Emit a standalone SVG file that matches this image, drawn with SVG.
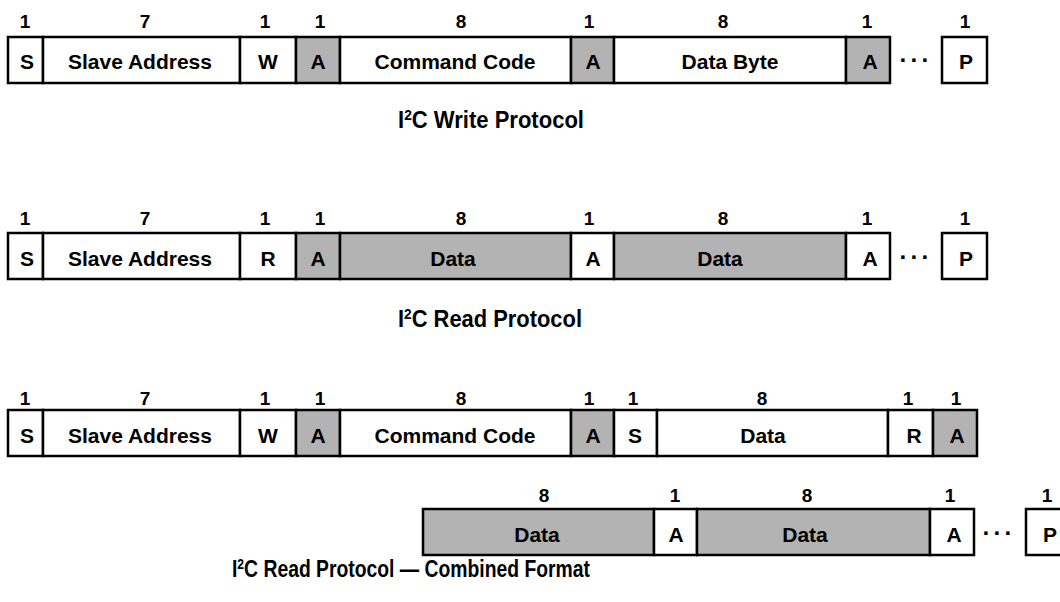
<svg xmlns="http://www.w3.org/2000/svg" width="1060" height="602" viewBox="0 0 1060 602">
  <style>
    .box { stroke: #000; stroke-width: 2.5; }
    .w { fill: #fff; }
    .g { fill: #b3b3b3; }
    text { font-family: "Liberation Sans", Arial, Helvetica, sans-serif; font-weight: bold; fill: #000; text-anchor: middle; }
    .lbl { font-size: 21px; }
    .num { font-size: 19px; }
    .dots { font-size: 24px; letter-spacing: 3px; }
    .ttl { font-size: 24px; text-anchor: start; }
    .sup { font-size: 15px; }
  </style>
  <rect width="1060" height="602" fill="#fff"/>

  <!-- Write protocol frame -->
  <g id="write">
    <g id="w-s"><rect class="box w" x="8" y="37" width="35" height="46"/><text class="num" x="25" y="28">1</text><text class="lbl" x="27" y="69">S</text></g>
    <g id="w-addr"><rect class="box w" x="43" y="37" width="197" height="46"/><text class="num" x="145" y="28">7</text><text class="lbl" x="140" y="69">Slave Address</text></g>
    <g id="w-rw"><rect class="box w" x="240" y="37" width="56" height="46"/><text class="num" x="265" y="28">1</text><text class="lbl" x="268" y="69">W</text></g>
    <g id="w-ack1"><rect class="box g" x="296" y="37" width="44" height="46"/><text class="num" x="320" y="28">1</text><text class="lbl" x="318" y="69">A</text></g>
    <g id="w-cmd"><rect class="box w" x="340" y="37" width="231" height="46"/><text class="num" x="461" y="28">8</text><text class="lbl" x="455" y="69">Command Code</text></g>
    <g id="w-ack2"><rect class="box g" x="571" y="37" width="43" height="46"/><text class="num" x="589" y="28">1</text><text class="lbl" x="593" y="69">A</text></g>
    <g id="w-data"><rect class="box w" x="614" y="37" width="232" height="46"/><text class="num" x="723" y="28">8</text><text class="lbl" x="730" y="69">Data Byte</text></g>
    <g id="w-ack3"><rect class="box g" x="846" y="37" width="44" height="46"/><text class="num" x="867" y="28">1</text><text class="lbl" x="870" y="69">A</text></g>
    <g id="w-more"><text class="dots" x="916" y="68">···</text></g>
    <g id="w-p"><rect class="box w" x="942" y="37" width="45" height="46"/><text class="num" x="965" y="28">1</text><text class="lbl" x="966" y="69">P</text></g>
    <text class="ttl" x="398" y="128" textLength="186" lengthAdjust="spacingAndGlyphs">I<tspan class="sup" dy="-8">2</tspan><tspan dy="8">C Write Protocol</tspan></text>
  </g>

  <!-- Read protocol frame -->
  <g id="read">
    <g id="r-s"><rect class="box w" x="8" y="233" width="35" height="46"/><text class="num" x="25" y="225">1</text><text class="lbl" x="27" y="266">S</text></g>
    <g id="r-addr"><rect class="box w" x="43" y="233" width="197" height="46"/><text class="num" x="145" y="225">7</text><text class="lbl" x="140" y="266">Slave Address</text></g>
    <g id="r-rw"><rect class="box w" x="240" y="233" width="56" height="46"/><text class="num" x="265" y="225">1</text><text class="lbl" x="268" y="266">R</text></g>
    <g id="r-ack1"><rect class="box g" x="296" y="233" width="44" height="46"/><text class="num" x="320" y="225">1</text><text class="lbl" x="318" y="266">A</text></g>
    <g id="r-data1"><rect class="box g" x="340" y="233" width="231" height="46"/><text class="num" x="461" y="225">8</text><text class="lbl" x="453" y="266">Data</text></g>
    <g id="r-ack2"><rect class="box w" x="571" y="233" width="43" height="46"/><text class="num" x="589" y="225">1</text><text class="lbl" x="593" y="266">A</text></g>
    <g id="r-data2"><rect class="box g" x="614" y="233" width="232" height="46"/><text class="num" x="723" y="225">8</text><text class="lbl" x="720" y="266">Data</text></g>
    <g id="r-ack3"><rect class="box w" x="846" y="233" width="44" height="46"/><text class="num" x="867" y="225">1</text><text class="lbl" x="870" y="266">A</text></g>
    <g id="r-more"><text class="dots" x="916" y="265">···</text></g>
    <g id="r-p"><rect class="box w" x="942" y="233" width="45" height="46"/><text class="num" x="965" y="225">1</text><text class="lbl" x="966" y="266">P</text></g>
    <text class="ttl" x="398" y="327" textLength="184" lengthAdjust="spacingAndGlyphs">I<tspan class="sup" dy="-8">2</tspan><tspan dy="8">C Read Protocol</tspan></text>
  </g>

  <!-- Combined-format read frame -->
  <g id="combined">
    <g id="c-s1"><rect class="box w" x="8" y="410" width="35" height="46"/><text class="num" x="25" y="405">1</text><text class="lbl" x="27" y="443">S</text></g>
    <g id="c-addr"><rect class="box w" x="43" y="410" width="197" height="46"/><text class="num" x="145" y="405">7</text><text class="lbl" x="140" y="443">Slave Address</text></g>
    <g id="c-rw1"><rect class="box w" x="240" y="410" width="56" height="46"/><text class="num" x="265" y="405">1</text><text class="lbl" x="268" y="443">W</text></g>
    <g id="c-ack1"><rect class="box g" x="296" y="410" width="44" height="46"/><text class="num" x="320" y="405">1</text><text class="lbl" x="318" y="443">A</text></g>
    <g id="c-cmd"><rect class="box w" x="340" y="410" width="231" height="46"/><text class="num" x="461" y="405">8</text><text class="lbl" x="455" y="443">Command Code</text></g>
    <g id="c-ack2"><rect class="box g" x="571" y="410" width="43" height="46"/><text class="num" x="589" y="405">1</text><text class="lbl" x="593" y="443">A</text></g>
    <g id="c-s2"><rect class="box w" x="614" y="410" width="43" height="46"/><text class="num" x="633" y="405">1</text><text class="lbl" x="635" y="443">S</text></g>
    <g id="c-data0"><rect class="box w" x="657" y="410" width="231" height="46"/><text class="num" x="762" y="405">8</text><text class="lbl" x="763" y="443">Data</text></g>
    <g id="c-rw2"><rect class="box w" x="888" y="410" width="45" height="46"/><text class="num" x="908" y="405">1</text><text class="lbl" x="914" y="443">R</text></g>
    <g id="c-ack3"><rect class="box g" x="933" y="410" width="44" height="46"/><text class="num" x="956" y="405">1</text><text class="lbl" x="957" y="443">A</text></g>

    <g id="c-data1"><rect class="box g" x="423" y="509" width="231" height="46"/><text class="num" x="544" y="502">8</text><text class="lbl" x="537" y="542">Data</text></g>
    <g id="c-ack4"><rect class="box w" x="654" y="509" width="43" height="46"/><text class="num" x="675" y="502">1</text><text class="lbl" x="676" y="542">A</text></g>
    <g id="c-data2"><rect class="box g" x="697" y="509" width="233" height="46"/><text class="num" x="807" y="502">8</text><text class="lbl" x="805" y="542">Data</text></g>
    <g id="c-ack5"><rect class="box w" x="930" y="509" width="44" height="46"/><text class="num" x="950" y="502">1</text><text class="lbl" x="954" y="542">A</text></g>
    <g id="c-more"><text class="dots" x="999" y="541">···</text></g>
    <g id="c-p"><rect class="box w" x="1026" y="509" width="45" height="46"/><text class="num" x="1047" y="502">1</text><text class="lbl" x="1050" y="542">P</text></g>
    <text class="ttl" x="232" y="577" textLength="358" lengthAdjust="spacingAndGlyphs">I<tspan class="sup" dy="-8">2</tspan><tspan dy="8">C Read Protocol — Combined Format</tspan></text>
  </g>
</svg>
